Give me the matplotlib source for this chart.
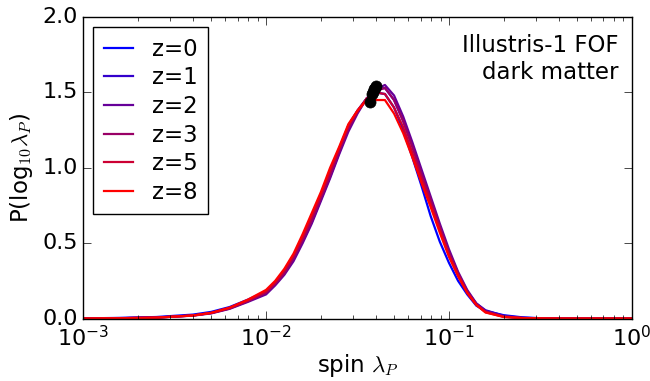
import numpy as np
import matplotlib
matplotlib.use("Agg")
import matplotlib.pyplot as plt

plt.style.use('classic')

# log10 of spin lambda_P (bin centres)
log_lam = np.array([-3.0, -2.8, -2.6, -2.4, -2.3, -2.2, -2.1,
                    -2.0, -1.95, -1.9, -1.85, -1.8, -1.75, -1.7, -1.65, -1.6, -1.55,
                    -1.5, -1.45, -1.4, -1.35, -1.3, -1.25, -1.2, -1.15, -1.1, -1.05,
                    -1.0, -0.95, -0.9, -0.85, -0.8,
                    -0.7, -0.6, -0.5, -0.4, -0.2, 0.0])

redshifts = [0, 1, 2, 3, 5, 8]

p_z0 = [0.001, 0.004, 0.010, 0.026, 0.044, 0.076, 0.125,
        0.18, 0.24, 0.31, 0.41, 0.53, 0.67, 0.81, 0.97, 1.12, 1.28,
        1.38, 1.46, 1.50, 1.49, 1.40, 1.25, 1.07, 0.88, 0.68, 0.51,
        0.37, 0.25, 0.16, 0.085, 0.05,
        0.022, 0.008, 0.002, 0.0, 0.0, 0.0]
p_z1 = [0.001, 0.003, 0.007, 0.021, 0.037, 0.068, 0.115,
        0.17, 0.23, 0.30, 0.39, 0.51, 0.64, 0.79, 0.94, 1.10, 1.26,
        1.37, 1.46, 1.52, 1.53, 1.45, 1.31, 1.14, 0.96, 0.78, 0.61,
        0.44, 0.30, 0.18, 0.10, 0.055,
        0.018, 0.005, 0.001, 0.0, 0.0, 0.0]
p_z2 = [0.0, 0.002, 0.006, 0.019, 0.034, 0.064, 0.11,
        0.16, 0.22, 0.29, 0.38, 0.50, 0.63, 0.78, 0.93, 1.09, 1.24,
        1.36, 1.46, 1.52, 1.55, 1.48, 1.34, 1.17, 0.99, 0.81, 0.63,
        0.46, 0.31, 0.19, 0.10, 0.05,
        0.015, 0.004, 0.001, 0.0, 0.0, 0.0]
p_z3 = [0.0, 0.002, 0.006, 0.020, 0.036, 0.066, 0.115,
        0.17, 0.23, 0.30, 0.40, 0.52, 0.65, 0.80, 0.95, 1.11, 1.26,
        1.37, 1.46, 1.51, 1.53, 1.45, 1.31, 1.14, 0.96, 0.79, 0.61,
        0.44, 0.30, 0.18, 0.095, 0.047,
        0.013, 0.003, 0.001, 0.0, 0.0, 0.0]
p_z5 = [0.0, 0.002, 0.006, 0.020, 0.037, 0.070, 0.12,
        0.18, 0.24, 0.32, 0.42, 0.54, 0.68, 0.82, 0.98, 1.13, 1.28,
        1.38, 1.46, 1.50, 1.49, 1.40, 1.27, 1.10, 0.93, 0.76, 0.59,
        0.42, 0.29, 0.17, 0.09, 0.042,
        0.011, 0.003, 0.001, 0.0, 0.0, 0.0]
p_z8 = [0.0, 0.002, 0.006, 0.020, 0.038, 0.072, 0.125,
        0.19, 0.25, 0.33, 0.43, 0.56, 0.70, 0.84, 1.00, 1.14, 1.29,
        1.38, 1.45, 1.45, 1.45, 1.36, 1.23, 1.07, 0.90, 0.74, 0.57,
        0.41, 0.28, 0.17, 0.09, 0.04,
        0.010, 0.003, 0.001, 0.0, 0.0, 0.0]

# peak markers
peak_lam = [0.0385, 0.0395, 0.0400, 0.0390, 0.0380, 0.0370]
peak_p = [1.50, 1.53, 1.54, 1.52, 1.49, 1.44]

series = [p_z0, p_z1, p_z2, p_z3, p_z5, p_z8]

fig = plt.figure(figsize=(6.5, 3.81), dpi=100, facecolor='white')
ax = fig.add_axes([0.128, 0.164, 0.844, 0.791])

lam = 10**log_lam
n = len(series)
for i, (z, p) in enumerate(zip(redshifts, series)):
    c = (i / (n - 1.0), 0.0, 1.0 - i / (n - 1.0))
    ax.plot(lam, p, color=c, lw=1.6, label='z=%d' % z)

ax.plot(peak_lam, peak_p, 'ko', ms=8, mec='k')

ax.set_xscale('log')
ax.set_xlim(1e-3, 1.0)
ax.set_ylim(0, 2.0)
ax.set_yticks([0, 0.5, 1.0, 1.5, 2.0])
ax.tick_params(which='major', length=6, labelsize=16)
ax.tick_params(which='minor', length=3)
ax.tick_params(axis='x', pad=5)

ax.set_xlabel(r'spin $\lambda_P$', fontsize=16.5, labelpad=1)
ax.set_ylabel(r'P(log$_{10}\lambda_P$)', fontsize=16.5)

leg = ax.legend(loc='upper left', fontsize=16.5, handlelength=1.3, handletextpad=0.8,
                labelspacing=0.25, borderpad=0.45, borderaxespad=0.44, numpoints=1)
leg.get_frame().set_edgecolor('k')

ax.text(0.975, 0.944, 'Illustris-1 FOF\ndark matter', transform=ax.transAxes,
        ha='right', va='top', fontsize=16.5, linespacing=1.2)

fig.savefig('out.png', dpi=100, facecolor='white')
